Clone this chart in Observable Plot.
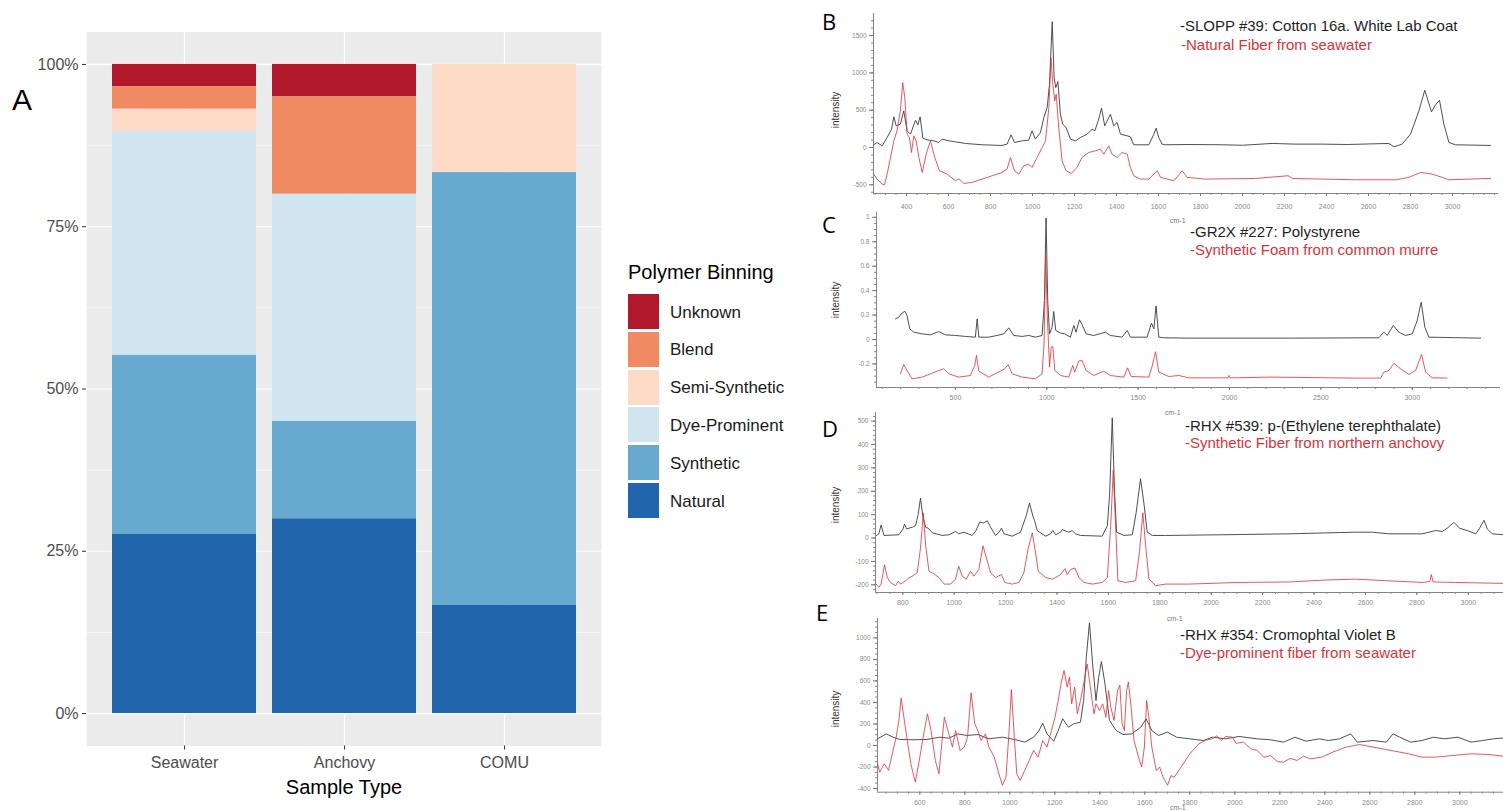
<!DOCTYPE html>
<html><head><meta charset="utf-8">
<script src="https://cdn.jsdelivr.net/npm/d3@7"></script>
<script src="https://cdn.jsdelivr.net/npm/@observablehq/plot@0.6"></script>
<style>
body{margin:0;width:1503px;height:810px;position:relative;overflow:hidden;background:#fff;font-family:"Liberation Sans",Arial,sans-serif;}
.t{position:absolute;white-space:nowrap;line-height:1;}
</style></head><body>
<script>
// ---------- Panel A data ----------
const sampleTypes = ["Seawater","Anchovy","COMU"];
const bins = ["Unknown","Blend","Semi-Synthetic","Dye-Prominent","Synthetic","Natural"];
const binColors = ["#B2182B","#EF8A62","#FDDBC7","#D1E5F0","#67A9CF","#2166AC"];
const seawaterCounts = [1,1,1,10,8,8];
const anchovyCounts  = [1,3,0,7,3,6];
const comuCounts     = [0,0,1,0,4,1];
const pctTicks  = [0,0.25,0.5,0.75,1];
const pctLabels = ["0%","25%","50%","75%","100%"];
const pctMinor  = [0.125,0.375,0.625,0.875];

// ---------- Spectra data [wavenumber cm-1, intensity] ----------
const bRef = [[244,36],[260,67],[284,22],[308,134],[329,245],[340,410],[351,290],[371,312],[387,490],[403,223],[419,178],[443,366],[454,303],[465,410],[478,125],[498,103],[530,89],[554,67],[570,112],[602,89],[681,54],[760,36],[855,27],[879,45],[898,170],[914,67],[951,89],[982,98],[998,223],[1014,112],[1038,200],[1054,401],[1070,535],[1081,847],[1094,1686],[1103,937],[1111,803],[1121,883],[1133,446],[1144,312],[1160,268],[1181,112],[1205,89],[1229,134],[1260,178],[1284,245],[1297,223],[1313,357],[1329,526],[1344,290],[1371,446],[1387,290],[1403,335],[1419,178],[1451,156],[1466,143],[1482,36],[1554,36],[1578,178],[1589,259],[1601,134],[1617,45],[1633,36],[1750,40],[1903,36],[2000,30],[2141,54],[2250,45],[2380,45],[2500,40],[2697,54],[2721,9],[2760,45],[2800,178],[2840,490],[2868,767],[2900,477],[2919,571],[2938,633],[2959,312],[2983,67],[3014,36],[3181,27]];
const bSample = [[244,-357],[260,-424],[284,-490],[295,-500],[308,-357],[324,-134],[340,89],[355,223],[371,490],[382,870],[392,669],[403,178],[414,134],[424,-67],[435,156],[446,89],[459,-134],[475,-335],[494,-89],[514,89],[535,-134],[557,-312],[594,-357],[633,-446],[650,-420],[673,-482],[713,-468],[740,-440],[760,-424],[808,-379],[855,-335],[879,-290],[895,-134],[914,-312],[935,-357],[959,-245],[982,-223],[998,-268],[1022,-134],[1046,0],[1062,89],[1078,535],[1088,1204],[1097,847],[1106,624],[1113,714],[1125,268],[1141,-178],[1160,-312],[1185,-348],[1212,-268],[1236,-134],[1268,-67],[1300,-45],[1324,-22],[1340,-89],[1363,22],[1379,-89],[1403,-134],[1427,-67],[1451,-89],[1466,-268],[1482,-379],[1514,-424],[1554,-424],[1578,-357],[1594,-312],[1610,-401],[1673,-446],[1713,-312],[1737,-401],[1824,-424],[2062,-415],[2218,-379],[2237,-415],[2538,-433],[2729,-433],[2792,-401],[2848,-335],[2903,-357],[2951,-401],[2983,-433],[3181,-415]];

const cRef = [[172,0.169],[190,0.183],[204,0.21],[223,0.232],[235,0.196],[250,0.087],[272,0.06],[318,0.046],[363,0.038],[409,0.065],[445,0.038],[500,0.033],[555,0.025],[609,0.019],[619,0.169],[628,0.019],[682,0.019],[728,0.033],[765,0.046],[792,0.095],[819,0.033],[865,0.025],[901,0.033],[938,0.019],[974,0.033],[987,0.319],[996,0.995],[1005,0.319],[1015,0.046],[1029,0.1],[1038,0.229],[1049,0.074],[1075,0.052],[1098,0.046],[1129,0.019],[1148,0.115],[1160,0.06],[1179,0.161],[1193,0.123],[1215,0.046],[1257,0.033],[1303,0.052],[1321,0.06],[1348,0.033],[1412,0.019],[1440,0.074],[1458,0.019],[1549,0.019],[1573,0.134],[1586,0.087],[1598,0.275],[1613,0.019],[1640,0.014],[1777,0.011],[2325,0.011],[2817,0.014],[2845,0.06],[2863,0.033],[2896,0.115],[2927,0.06],[2963,0.033],[3000,0.046],[3027,0.155],[3049,0.305],[3069,0.1],[3091,0.019],[3374,0.011]];
const cSample = [[199,-0.281],[217,-0.205],[235,-0.254],[263,-0.322],[318,-0.308],[363,-0.281],[409,-0.254],[436,-0.24],[464,-0.281],[518,-0.308],[582,-0.295],[606,-0.213],[615,-0.131],[628,-0.259],[682,-0.308],[746,-0.259],[770,-0.24],[788,-0.205],[810,-0.281],[865,-0.308],[938,-0.322],[974,-0.281],[985,-0.035],[994,0.687],[1003,0.183],[1015,-0.226],[1024,-0.063],[1033,-0.057],[1044,-0.254],[1075,-0.295],[1120,-0.308],[1142,-0.213],[1153,-0.267],[1175,-0.177],[1193,-0.172],[1215,-0.254],[1257,-0.295],[1312,-0.259],[1348,-0.295],[1421,-0.308],[1442,-0.232],[1462,-0.303],[1558,-0.308],[1576,-0.221],[1595,-0.1],[1613,-0.267],[1668,-0.303],[1723,-0.295],[1777,-0.314],[1990,-0.314],[1996,-0.295],[2002,-0.314],[2234,-0.308],[2690,-0.316],[2827,-0.316],[2845,-0.267],[2872,-0.254],[2900,-0.194],[2936,-0.24],[2982,-0.286],[3018,-0.254],[3051,-0.123],[3073,-0.267],[3109,-0.314],[3191,-0.316]];

const dRef = [[698,11],[707,18],[716,56],[727,11],[785,14],[800,36],[807,60],[815,39],[837,46],[850,53],[860,101],[869,171],[878,94],[889,46],[899,42],[915,22],[954,11],[980,14],[1005,28],[1018,18],[1038,25],[1070,11],[1083,28],[1100,69],[1113,64],[1129,74],[1142,46],[1161,11],[1175,25],[1184,42],[1194,18],[1226,8],[1258,25],[1280,94],[1293,150],[1306,94],[1313,74],[1323,32],[1356,8],[1375,18],[1384,32],[1395,14],[1414,25],[1420,36],[1446,25],[1459,32],[1472,18],[1492,11],[1576,8],[1596,53],[1605,192],[1615,514],[1624,192],[1632,25],[1660,11],[1693,14],[1708,108],[1725,254],[1738,150],[1751,25],[1771,11],[1822,11],[2043,14],[2302,18],[2562,25],[2627,25],[2691,18],[2821,18],[2873,32],[2899,28],[2918,42],[2944,67],[2966,42],[2996,32],[3029,18],[3044,42],[3061,76],[3074,39],[3093,18],[3137,14]];
const dSample = [[694,-194],[707,-211],[716,-197],[729,-114],[740,-169],[752,-190],[772,-204],[782,-185],[792,-197],[811,-183],[825,-170],[837,-163],[856,-149],[869,-44],[880,106],[889,-31],[902,-142],[921,-153],[941,-169],[961,-197],[986,-197],[1005,-176],[1018,-121],[1031,-163],[1047,-176],[1064,-142],[1077,-163],[1096,-135],[1112,-33],[1122,-72],[1131,-107],[1142,-149],[1161,-169],[1184,-156],[1197,-190],[1226,-197],[1252,-190],[1271,-149],[1288,-44],[1304,22],[1314,-44],[1327,-142],[1356,-169],[1382,-176],[1395,-169],[1414,-156],[1431,-131],[1440,-156],[1453,-135],[1470,-128],[1485,-169],[1505,-190],[1537,-197],[1576,-190],[1596,-169],[1609,53],[1619,292],[1628,53],[1637,-183],[1667,-190],[1706,-183],[1721,-58],[1734,108],[1747,-58],[1758,-176],[1784,-204],[1822,-197],[1913,-197],[2108,-190],[2302,-188],[2458,-179],[2562,-176],[2691,-183],[2821,-190],[2851,-186],[2856,-156],[2863,-188],[2951,-190],[3137,-194]];

const eRef = [[412,62],[451,108],[481,77],[511,56],[570,53],[630,56],[689,77],[729,68],[769,108],[808,93],[858,102],[907,62],[967,77],[1027,53],[1066,31],[1106,77],[1130,139],[1146,207],[1165,108],[1195,40],[1215,139],[1235,248],[1260,170],[1284,201],[1314,217],[1328,418],[1340,820],[1354,1140],[1368,758],[1383,418],[1395,635],[1407,780],[1423,573],[1443,232],[1473,139],[1503,102],[1542,108],[1582,170],[1606,248],[1631,139],[1661,93],[1701,124],[1741,77],[1800,62],[1860,46],[1900,77],[1959,62],[2019,84],[2098,62],[2158,53],[2217,31],[2267,77],[2316,40],[2376,62],[2415,46],[2465,62],[2515,108],[2544,31],[2614,46],[2673,31],[2703,108],[2733,77],[2782,31],[2832,46],[2882,77],[2931,62],[2991,77],[3050,31],[3100,46],[3150,62],[3194,70]];
const eSample = [[412,-170],[422,-248],[442,-170],[461,-232],[481,-46],[495,77],[507,232],[517,440],[527,294],[540,108],[560,-170],[580,-340],[600,-108],[620,139],[634,294],[650,139],[669,-139],[685,-263],[699,46],[709,263],[729,108],[745,-15],[759,139],[779,-46],[798,-15],[812,77],[828,490],[844,201],[858,139],[872,46],[892,108],[907,-15],[931,-108],[947,-232],[967,-370],[983,-294],[997,139],[1007,520],[1019,108],[1031,-263],[1046,-325],[1066,-232],[1086,-139],[1106,-46],[1126,-108],[1146,46],[1165,-15],[1185,139],[1201,263],[1215,418],[1229,588],[1241,697],[1255,542],[1265,635],[1275,387],[1288,542],[1300,294],[1314,418],[1328,573],[1344,758],[1360,511],[1374,294],[1383,387],[1399,325],[1413,387],[1427,263],[1439,511],[1449,356],[1463,232],[1479,511],[1489,560],[1499,201],[1509,139],[1519,511],[1527,590],[1539,356],[1552,46],[1572,-108],[1586,-201],[1598,-15],[1608,418],[1618,263],[1631,-15],[1651,-232],[1666,-200],[1681,-294],[1701,-370],[1716,-280],[1731,-294],[1761,-201],[1800,-77],[1840,15],[1870,50],[1900,62],[1920,90],[1939,46],[1960,85],[1989,77],[2005,20],[2039,31],[2070,-30],[2098,-46],[2130,-110],[2158,-93],[2190,-150],[2217,-155],[2245,-120],[2277,-139],[2305,-100],[2336,-124],[2386,-108],[2435,-62],[2495,-15],[2554,9],[2614,-15],[2693,-46],[2772,-77],[2832,-108],[2891,-108],[2971,-93],[3050,-77],[3130,-84],[3194,-100]];

// tick values
const bXTicks = d3.range(400, 3001, 200), bXMinor = d3.range(250, 3201, 50);
const bYTicks = [-500,0,500,1000,1500], bYMinor = d3.range(-600, 1701, 100);
const cXTicks = [500,1000,1500,2000,2500,3000], cXMinor = d3.range(100, 3401, 100);
const cYTicks = [-0.2,0,0.2,0.4,0.6,0.8,1], cYMinor = d3.range(-0.35, 1.001, 0.05);
const dXTicks = d3.range(800, 3001, 200), dXMinor = d3.range(700, 3101, 50);
const dYTicks = [-200,-100,0,100,200,300,400,500], dYMinor = d3.range(-220, 521, 20);
const eXTicks = d3.range(600, 3001, 200), eXMinor = d3.range(450, 3151, 50);
const eYTicks = [-400,-200,0,200,400,600,800,1000], eYMinor = d3.range(-400, 1151, 50);

const FONT = '"Liberation Sans", Arial, sans-serif';

function place(el, left, top) {
  el.style.position = "absolute"; el.style.left = left + "px"; el.style.top = top + "px";
  document.body.appendChild(el);
}
function text(str, left, top, css) {
  const d = document.createElement("div");
  d.className = "t"; d.textContent = str;
  Object.assign(d.style, {left: left + "px", top: top + "px", transform: "translate(0,-50%)"}, css || {});
  document.body.appendChild(d);
  return d;
}

// ---------- Panel A ----------
const rows = [];
const countsByType = [seawaterCounts, anchovyCounts, comuCounts];
sampleTypes.forEach((t, i) => bins.forEach((b, j) => rows.push({type: t, bin: b, n: countsByType[i][j]})));
const stackOrder = bins.slice().reverse();

const plotA = Plot.plot({
  width: 610, height: 810,
  marginLeft: 86, marginRight: 9, marginTop: 31.5, marginBottom: 64.5,
  style: {background: "transparent", overflow: "visible", fontFamily: FONT},
  x: {domain: sampleTypes, paddingInner: 0.1, paddingOuter: 0.153},
  y: {domain: [-0.05, 1.05]},
  color: {domain: bins, range: binColors},
  marks: [
    Plot.frame({fill: "#EBEBEB", stroke: null}),
    Plot.gridY(pctMinor, {stroke: "white", strokeOpacity: 1, strokeWidth: 0.6}),
    Plot.gridY(pctTicks, {stroke: "white", strokeOpacity: 1, strokeWidth: 1.2}),
    Plot.gridX(sampleTypes, {stroke: "white", strokeOpacity: 1, strokeWidth: 1.2}),
    Plot.barY(rows, Plot.stackY({x: "type", y: "n", fill: "bin", order: stackOrder, offset: "normalize"})),
    Plot.axisY(pctTicks, {tickFormat: d => pctLabels[pctTicks.indexOf(d)], tickSize: 4, tickPadding: 4, fontSize: 16, fill: "#4D4D4D", stroke: "#333", label: null}),
    Plot.axisX({tickSize: 4, tickPadding: 7, fontSize: 16, fill: "#4D4D4D", stroke: "#333", label: null}),
    Plot.text(["Sample Type"], {frameAnchor: "bottom", dy: 48, fontSize: 20, fill: "#000", text: d => d})
  ]
});
place(plotA, 0, 0);
text("A", 12, 100, {fontSize: "30px", color: "#000"});

// legend
text("Polymer Binning", 628, 272, {fontSize: "20px", color: "#000"});
bins.forEach((b, i) => {
  const sw = document.createElement("div");
  Object.assign(sw.style, {position: "absolute", left: "628px", top: (294 + i * 37.8) + "px", width: "31px", height: "35px", background: binColors[i]});
  document.body.appendChild(sw);
  text(b, 670, 294 + i * 37.8 + 17.5, {fontSize: "17px", color: "#1a1a1a"});
});

// ---------- Spectra ----------
const REF = "#3b3b3b", RED = "#e0303a";
function spectrum(cfg) {
  const fmt = d => String(Math.round(d * 100) / 100);
  return Plot.plot({
    width: cfg.width, height: cfg.height,
    marginTop: cfg.mt, marginBottom: cfg.mb, marginLeft: cfg.ml, marginRight: cfg.mr,
    style: {background: "transparent", overflow: "visible", fontFamily: FONT},
    x: {domain: cfg.xDomain}, y: {domain: cfg.yDomain},
    marks: [
      Plot.ruleX([cfg.xDomain[0]], {stroke: "#666", strokeWidth: 0.8}),
      Plot.ruleY([cfg.yDomain[0]], {stroke: "#666", strokeWidth: 0.8}),
      Plot.axisX(cfg.xMinor, {tickSize: 2, tickFormat: () => "", stroke: "#888", label: null}),
      Plot.axisX(cfg.xTicks, {tickSize: 3, tickPadding: cfg.xPad, fontSize: 7, fill: "#8a8a8a", stroke: "#777", tickFormat: fmt, label: null}),
      Plot.axisY(cfg.yMinor, {tickSize: 2, tickFormat: () => "", stroke: "#888", label: null}),
      Plot.axisY(cfg.yTicks, {tickSize: 4, tickPadding: 3, fontSize: 6.5, fill: "#8a8a8a", stroke: "#777", tickFormat: fmt, label: null}),
      Plot.line(cfg.ref, {x: d => d[0], y: d => d[1], stroke: REF, strokeWidth: 0.9}),
      Plot.line(cfg.sample, {x: d => d[0], y: d => d[1], stroke: RED, strokeWidth: 0.9, strokeOpacity: 0.9})
    ]
  });
}

place(spectrum({width: 688, height: 215, mt: 13, mb: 22, ml: 58, mr: 5, xPad: 8,
  xDomain: [243, 3219], yDomain: [-617, 1796],
  xTicks: bXTicks, xMinor: bXMinor, yTicks: bYTicks, yMinor: bYMinor, ref: bRef, sample: bSample}), 815, 0);
place(spectrum({width: 688, height: 205, mt: 11.7, mb: 18, ml: 61, mr: 3, xPad: 4.5,
  xDomain: [68, 3483], yDomain: [-0.393, 1.042],
  xTicks: cXTicks, xMinor: cXMinor, yTicks: cYTicks, yMinor: cYMinor, ref: cRef, sample: cSample}), 815, 200);
place(spectrum({width: 688, height: 215, mt: 17, mb: 18, ml: 60, mr: 0, xPad: 4.5,
  xDomain: [694, 3137], yDomain: [-233, 537],
  xTicks: dXTicks, xMinor: dXMinor, yTicks: dYTicks, yMinor: dYMinor, ref: dRef, sample: dSample}), 815, 395);
place(spectrum({width: 688, height: 220, mt: 28, mb: 18.3, ml: 62, mr: 0, xPad: 5,
  xDomain: [412, 3194], yDomain: [-434, 1180],
  xTicks: eXTicks, xMinor: eXMinor, yTicks: eYTicks, yMinor: eYMinor, ref: eRef, sample: eSample}), 815, 590);

// panel letters
const letterCss = {fontSize: "22px", color: "#000", fontFamily: '"Open Sans", "Liberation Sans", sans-serif'};
text("B", 822, 21, letterCss);
text("C", 822, 224, letterCss);
text("D", 822, 428, letterCss);
text("E", 816, 612, letterCss);

// intensity labels
[110, 300, 505, 709].forEach(y => {
  const d = text("intensity", 836, y, {fontSize: "10px", color: "#333"});
  d.style.transform = "translate(-50%,-50%) rotate(-90deg)";
});

// cm-1 labels
const cmCss = {fontSize: "7px", color: "#777"};
text("cm-1", 1170, 220, cmCss);
text("cm-1", 1165, 412, cmCss);
text("cm-1", 1167, 618, cmCss);
text("cm-1", 1170, 807, cmCss);

// spectrum legends
const blk = {fontSize: "15px", color: "#1e1e1e"};
const red = {fontSize: "15px", color: "#d8333b"};
text("-SLOPP #39: Cotton 16a. White Lab Coat", 1180, 25, blk);
text("-Natural Fiber from seawater", 1181, 44, red);
text("-GR2X #227: Polystyrene", 1190, 231, blk);
text("-Synthetic Foam from common murre", 1190, 249, red);
text("-RHX #539: p-(Ethylene terephthalate)", 1185, 425, blk);
text("-Synthetic Fiber from northern anchovy", 1185, 442, red);
text("-RHX #354: Cromophtal Violet B", 1180, 634, blk);
text("-Dye-prominent fiber from seawater", 1180, 652, red);
</script>
</body></html>
